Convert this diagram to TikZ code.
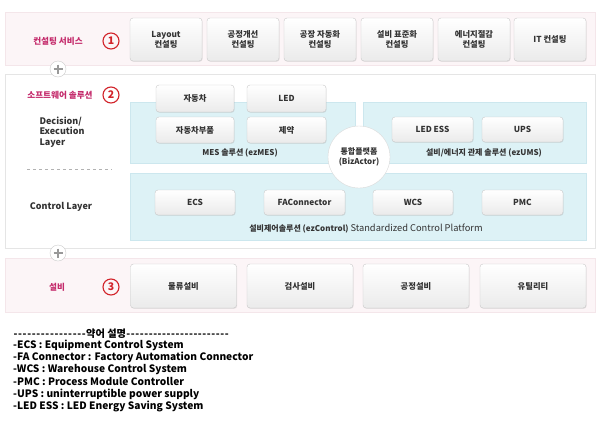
\documentclass[tikz,border=0pt]{standalone}
\usepackage{fontspec}
\setmainfont{Noto Sans CJK KR}
\usetikzlibrary{shadows,calc}
\definecolor{bandpink}{HTML}{FCF5F7}
\definecolor{bandline}{HTML}{F4E6EA}
\definecolor{labelmag}{HTML}{C42A6B}
\definecolor{numred}{HTML}{D2232A}
\definecolor{cyanfill}{HTML}{DDF2F6}
\definecolor{cyanline}{HTML}{CCE7EE}
\definecolor{boxline}{HTML}{C9C9C9}
\definecolor{txt}{HTML}{333333}
\newcommand{\dashrun}[1]{\hbox to #1{\xleaders\hbox to 4.3pt{\hss\mbox{-}\hss}\hfill}}
\tikzset{
  btn/.style={draw=boxline, rounded corners=3pt, top color=white, bottom color=black!8,
    text=txt, align=center, font=\fontsize{8.3}{10}\selectfont\bfseries,
    inner sep=0pt, drop shadow={shadow xshift=0.6pt, shadow yshift=-0.8pt, opacity=0.18}},
  band/.style={fill=bandpink, draw=bandline},
  area/.style={fill=cyanfill, draw=cyanline},
  seclabel/.style={text=labelmag, font=\fontsize{8.6}{10}\selectfont\bfseries},
  num/.style={circle, draw=numred, line width=1.1pt, text=numred, inner sep=0pt,
    minimum size=16pt, font=\fontsize{10.5}{10.5}\selectfont\bfseries},
  plus/.style={circle, draw=black!20, fill=white, minimum size=16pt, inner sep=0pt},
  layer/.style={text=txt, font=\fontsize{9}{10.5}\selectfont\bfseries, align=left},
  areacap/.style={text=txt, font=\fontsize{8}{9}\selectfont\bfseries},
  legend/.style={anchor=west, inner sep=0pt, font=\fontsize{10.2}{12}\selectfont\bfseries}
}
\begin{document}
\begin{tikzpicture}[x=1pt,y=-1pt]
\useasboundingbox (0,0) rectangle (600,429);
\fill[white] (0,0) rectangle (600,429);
% bands
\draw[band] (5,12) rectangle (595,65);
\draw[fill=white, draw=black!10] (5,74) rectangle (595,248);
\draw[band] (5,258) rectangle (595,312);
% plus signs
\node[plus] (p1) at (58,69) {};
\draw[black!40, line width=1.6pt] ($(p1)+(-4.5,0)$) -- ($(p1)+(4.5,0)$) ($(p1)+(0,-4.5)$) -- ($(p1)+(0,4.5)$);
\node[plus] (p2) at (58,253) {};
\draw[black!40, line width=1.6pt] ($(p2)+(-4.5,0)$) -- ($(p2)+(4.5,0)$) ($(p2)+(0,-4.5)$) -- ($(p2)+(0,4.5)$);
% section labels
\node[seclabel] (l1) at (58,41) {컨설팅 서비스};
\node[num] (n1) at (111,41) {1};
\node[seclabel] (l2) at (60,95) {소프트웨어 솔루션};
\node[num] (n2) at (111,95) {2};
\node[seclabel] (l3) at (57,287) {설비};
\node[num] (n3) at (111,287) {3};
% consulting boxes
\foreach \x/\t [count=\i] in {166/{Layout\\컨설팅},243/{공정개선\\컨설팅},320/{공장 자동화\\컨설팅},397/{설비 표준화\\컨설팅},474/{에너지절감\\컨설팅},550/{IT 컨설팅}}
  \node[btn, minimum width=72pt, minimum height=43pt] (c\i) at (\x,39.5) {\t};
% layers
\node[layer, anchor=west] (dec) at (36,132) {Decision/\\Execution\\Layer};
\draw[black!30, dashed] (27,169) -- (112,169);
\node[layer] (ctl) at (61,207) {Control Layer};
% areas
\draw[area] (130,102) rectangle (355,163);
\draw[area] (363,102) rectangle (586,163);
\draw[area] (130,173) rectangle (586,240);
% MES boxes
\node[btn, minimum width=78pt, minimum height=27pt] (m1) at (195,98.5) {자동차};
\node[btn, minimum width=79pt, minimum height=27pt] (m2) at (286.5,98.5) {LED};
\node[btn, minimum width=78pt, minimum height=26pt] (m3) at (195,130) {자동차부품};
\node[btn, minimum width=79pt, minimum height=26pt] (m4) at (286.5,130) {제약};
\node[areacap] (mes) at (240,153) {MES 솔루션 (ezMES)};
% UMS boxes
\node[btn, minimum width=81pt, minimum height=25pt] (u1) at (432.5,129.5) {LED ESS};
\node[btn, minimum width=81pt, minimum height=25pt] (u2) at (522.5,129.5) {UPS};
\node[areacap] (ums) at (484,153) {설비/에너지 관제 솔루션 (ezUMS)};
% control boxes
\node[btn, minimum width=80pt, minimum height=25pt] (e1) at (195,202.5) {ECS};
\node[btn, minimum width=81pt, minimum height=25pt] (e2) at (304.5,202.5) {FAConnector};
\node[btn, minimum width=80pt, minimum height=25pt] (e3) at (413,202.5) {WCS};
\node[btn, minimum width=81pt, minimum height=25pt] (e4) at (522.5,202.5) {PMC};
\node[text=txt, anchor=base] (ezc) at (366,231) {\fontsize{8}{9}\selectfont\bfseries 설비제어솔루션 (ezControl)\ \fontsize{9.3}{10}\selectfont\mdseries Standardized Control Platform};
% platform circle
\node[circle, fill=white, draw=black!15, minimum size=62pt, inner sep=0pt, align=center,
  text=txt, font=\fontsize{8}{9.5}\selectfont\bfseries] (biz) at (359,157) {통합플랫폼\\(BizActor)};
% utility boxes
\foreach \x/\t [count=\i] in {183.5/물류설비,300/검사설비,416/공정설비,533/유틸리티}
  \node[btn, minimum width=106pt, minimum height=44pt] (f\i) at (\x,286) {\t};
% legend
\node[legend] (g0) at (13,334) {\dashrun{73pt}약어 설명\dashrun{103pt}};
\node[legend] (g1) at (13,345.5) {-ECS : Equipment Control System};
\node[legend] (g2) at (13,357.5) {-FA Connector : Factory Automation Connector};
\node[legend] (g3) at (13,369.5) {-WCS : Warehouse Control System};
\node[legend] (g4) at (13,381.5) {-PMC : Process Module Controller};
\node[legend] (g5) at (13,394) {-UPS : uninterruptible power supply};
\node[legend] (g6) at (13,406) {-LED ESS : LED Energy Saving System};
\end{tikzpicture}
\end{document}
